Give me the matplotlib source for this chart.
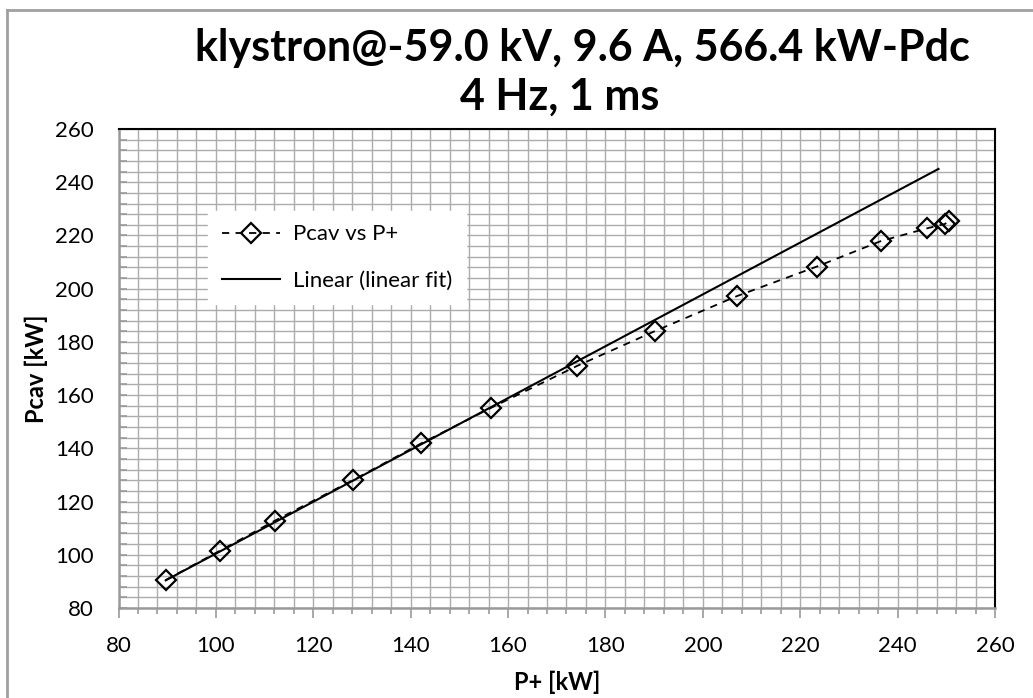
import numpy as np
import matplotlib
matplotlib.use('Agg')
import matplotlib.pyplot as plt
from matplotlib.ticker import MultipleLocator
from matplotlib.lines import Line2D

# Dados (kW)
p_plus = [89.7, 100.8, 112.1, 128.1, 142.2, 156.6, 174.1, 190.1, 207.0,
          223.4, 236.6, 246.1, 249.7, 250.6]
p_cav = [90.5, 101.5, 112.8, 128.0, 141.9, 155.3, 170.9, 184.0, 197.2,
         208.3, 217.9, 222.7, 224.3, 225.5]

# Reta de ajuste linear (extremos)
fit_x = [89.7, 248.4]
fit_y = [90.4, 245.0]

titulo_1 = 'klystron@-59.0 kV, 9.6 A, 566.4 kW-Pdc'
titulo_2 = '4 Hz, 1 ms'

plt.rcParams['font.family'] = ['Lato', 'DejaVu Sans']

fig = plt.figure(figsize=(10.33, 6.98), dpi=100)
ax = fig.add_axes([118.5 / 1033, 1 - 608 / 698, (995 - 118.5) / 1033, (608 - 129) / 698])

cinza = '#9a9a9a'

ax.plot(p_plus, p_cav, linestyle=(0, (4, 3.5)), color='black', linewidth=1.3,
        marker='D', markersize=10.5, markerfacecolor='none', markeredgewidth=1.6,
        label='Pcav vs P+', zorder=3)
ax.plot(fit_x, fit_y, color='black', linewidth=1.5, label='Linear (linear fit)', zorder=3)

ax.set_xlim(80, 260)
ax.set_ylim(80, 260)
ax.xaxis.set_major_locator(MultipleLocator(20))
ax.yaxis.set_major_locator(MultipleLocator(20))
ax.xaxis.set_minor_locator(MultipleLocator(4))
ax.yaxis.set_minor_locator(MultipleLocator(4))

ax.grid(which='both', color='#acacac', linewidth=1.0)
ax.set_axisbelow(True)

ax.tick_params(axis='x', which='major', direction='out', length=7, width=1.2, color=cinza,
               labelsize=16, pad=13)
ax.tick_params(axis='x', which='minor', direction='out', length=4, width=1.2, color=cinza)
ax.tick_params(axis='y', which='major', direction='in', length=6, width=1.2, color=cinza,
               labelsize=16, pad=18)
ax.tick_params(axis='y', which='minor', direction='in', length=6, width=1.2, color=cinza)

for lado in ['left', 'bottom']:
    ax.spines[lado].set_color(cinza)
    ax.spines[lado].set_linewidth(1.8)
for lado in ['top', 'right']:
    ax.spines[lado].set_color('black')
    ax.spines[lado].set_linewidth(1.5)

ax.set_xlabel('P+ [kW]', fontsize=17, fontweight='bold', labelpad=11)
ax.set_ylabel('Pcav [kW]', fontsize=17, fontweight='bold', labelpad=5)

# Título em duas linhas
fig.text(582 / 1033, 1 - 48 / 698, titulo_1, fontsize=31, fontweight='bold',
         ha='center', va='center')
fig.text(560 / 1033, 1 - 97 / 698, titulo_2, fontsize=31, fontweight='bold',
         ha='center', va='center')

leg = ax.legend(loc='upper left', bbox_to_anchor=(0.09, 0.852), fontsize=16,
                frameon=True, fancybox=False, edgecolor='white', framealpha=1,
                handlelength=2.6, handletextpad=0.6, labelspacing=1.2, borderpad=0.6)

# Borda cinza da área do gráfico
fig.add_artist(Line2D([7 / 1033, 7 / 1033], [0, 1 - 10 / 698], transform=fig.transFigure,
                      color='#a0a0a0', linewidth=2))
fig.add_artist(Line2D([7 / 1033, 1], [1 - 10 / 698, 1 - 10 / 698], transform=fig.transFigure,
                      color='#a0a0a0', linewidth=2))

plt.savefig('out.png', dpi=100)
